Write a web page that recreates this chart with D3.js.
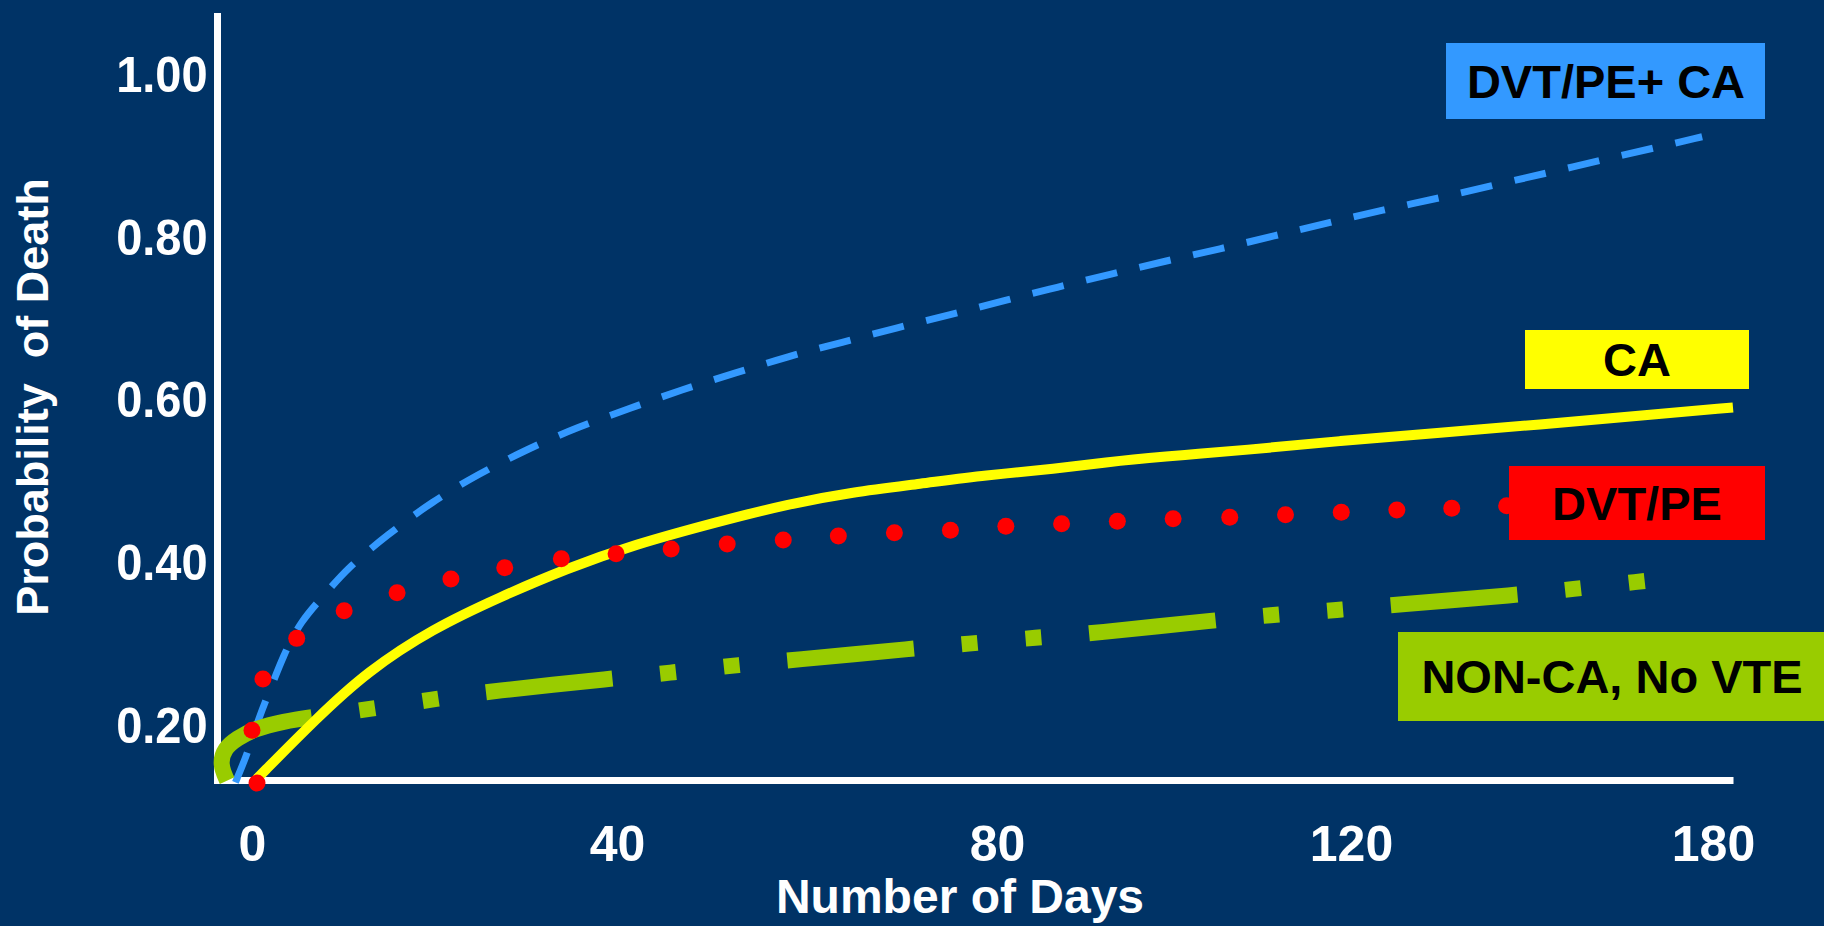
<!DOCTYPE html>
<html>
<head>
<meta charset="utf-8">
<script src="https://cdn.jsdelivr.net/npm/d3@7"></script>
<style>
  html, body { margin: 0; padding: 0; background: #003366; }
  svg { display: block; }
  text { font-family: "Liberation Sans", Arial, Helvetica, sans-serif; font-weight: bold; }
</style>
</head>
<body>
<svg id="chart" width="1824" height="926"></svg>
<script>
// ---- data ----
const dayTicks = [0, 40, 80, 120, 180];
const probTicks = [0.2, 0.4, 0.6, 0.8, 1.0];
const axisDays = [-3.8, 183.3];          // extent of the day axis line
const axisProbs = [0.1338, 1.0735];      // extent of the probability axis line

const seriesNames = ["DVT/PE+ CA", "CA", "DVT/PE", "NON-CA, No VTE"];
const seriesColors = ["#3399ff", "#ffff00", "#ff0000", "#99cc00"];

// [day, probability of death]
const dvtPeCa = [[-1.8,0.131],[-0.5,0.166],[0.8,0.212],[2.0,0.245],[3.4,0.286],[5.3,0.329],
  [8.0,0.362],[10.4,0.394],[14.8,0.435],[19.7,0.476],[24.8,0.510],[30.2,0.541],[35.7,0.568],
  [41.4,0.591],[46.8,0.614],[52.4,0.634],[58.0,0.655],[63.7,0.672],[69.4,0.690],[75.1,0.706],
  [80.7,0.723],[86.8,0.740],[92.9,0.756],[99.0,0.772],[105.2,0.787],[111.3,0.803],[117.4,0.819],
  [125.3,0.835],[134.3,0.849],[143.4,0.865],[152.3,0.880],[161.3,0.896],[170.2,0.911],[178.2,0.925]];

const ca = [[0.5,0.135],[7.1,0.210],[12.6,0.267],[19.8,0.320],[27.2,0.359],[34.5,0.394],
  [41.7,0.423],[50.8,0.452],[57.9,0.473],[64.8,0.488],[71.9,0.498],[78.9,0.509],[86.3,0.516],
  [93.9,0.527],[101.5,0.534],[107.5,0.539],[118.8,0.551],[134.8,0.561],[151.3,0.571],
  [167.9,0.582],[183.3,0.592]];

const dvtPe = [[0.55,0.130],[0.0,0.195],[1.2,0.258],[4.9,0.308],[10.1,0.342],[15.9,0.364],
  [21.8,0.381],[27.7,0.395],[33.9,0.406],[39.9,0.412],[45.7,0.418],[51.6,0.424],[57.5,0.429],
  [63.3,0.434],[69.2,0.438],[75.1,0.441],[81.0,0.446],[87.3,0.449],[93.6,0.452],[99.9,0.455],
  [106.3,0.457],[112.6,0.460],[118.9,0.463],[127.6,0.466],[136.7,0.468],[145.8,0.471]];

const nonCaNoVte = [[-2.7,0.133],[-3.5,0.153],[-3.0,0.173],[-1.6,0.185],[0.1,0.196],[3.4,0.206],
  [7.1,0.212],[12.9,0.221],[19.8,0.233],[26.1,0.243],[39.8,0.259],[45.9,0.266],[52.4,0.275],
  [58.2,0.281],[71.6,0.296],[77.5,0.302],[84.5,0.309],[90.7,0.314],[105.2,0.331],[111.4,0.337],
  [118.5,0.343],[127.0,0.349],[148.3,0.362],[156.0,0.368],[169.2,0.379]];

// ---- layout ----
const svg = d3.select("#chart");
const xPixels = [217, 252, 617, 997, 1351, 1713, 1733];
const x = d3.scaleLinear()
  .domain([axisDays[0], ...dayTicks, axisDays[1]])
  .range(xPixels);
const y = d3.scaleLinear().domain(axisProbs).range([780, 16]);

svg.append("rect").attr("width", 1824).attr("height", 926).attr("fill", "#003366");

// axes
const xAxis = svg.append("g")
  .attr("transform", `translate(0,${y(axisProbs[0])})`)
  .call(d3.axisBottom(x).tickValues(dayTicks).tickSize(0).tickSizeOuter(0)
    .tickPadding(45).tickFormat(d3.format("d")));

const yAxis = svg.append("g")
  .attr("transform", `translate(${x(axisDays[0])},0)`)
  .call(d3.axisLeft(y).tickValues(probTicks).tickSize(0).tickSizeOuter(0)
    .tickPadding(10).tickFormat(d3.format(".2f")));

[xAxis, yAxis].forEach(g => {
  g.select(".domain").attr("stroke", "#ffffff").attr("stroke-width", 7);
  g.selectAll("text").attr("fill", "#ffffff").style("font-size", "50px")
    .style("font-family", "'Liberation Sans', Arial, sans-serif").style("font-weight", "bold");
});
yAxis.select(".domain").attr("stroke-linecap", "square");
// slightly narrower figures on the probability axis
yAxis.selectAll(".tick text").attr("transform", "scale(0.94,1)");

// axis titles
svg.append("text")
  .attr("x", 960).attr("y", 913)
  .attr("text-anchor", "middle")
  .attr("fill", "#ffffff").style("font-size", "48px")
  .text("Number of Days");

svg.append("text")
  .attr("transform", "translate(48,397) rotate(-90)")
  .attr("text-anchor", "middle")
  .attr("fill", "#ffffff").style("font-size", "45px")
  .style("white-space", "pre")
  .text("Probability  of Death");

// curves
const line = d3.line()
  .x(d => x(d[0]))
  .y(d => y(d[1]))
  .curve(d3.curveBasis);

svg.append("path").datum(dvtPeCa)
  .attr("d", line).attr("fill", "none")
  .attr("stroke", seriesColors[0]).attr("stroke-width", 7)
  .attr("stroke-dasharray", "32,23");

svg.append("path").datum(nonCaNoVte)
  .attr("d", line).attr("fill", "none")
  .attr("stroke", seriesColors[3]).attr("stroke-width", 16)
  .attr("stroke-dasharray", "127,48,16,48,16,48");

svg.append("path").datum(ca)
  .attr("d", line).attr("fill", "none")
  .attr("stroke", seriesColors[1]).attr("stroke-width", 10);

svg.append("g").selectAll("circle").data(dvtPe).join("circle")
  .attr("cx", d => x(d[0])).attr("cy", d => y(d[1]))
  .attr("r", 8.5).attr("fill", seriesColors[2]);

// series labels
const labelBoxes = [
  { x: 1446, y: 43,  w: 319, h: 76, tx: 1606 },
  { x: 1525, y: 330, w: 224, h: 59, tx: 1637 },
  { x: 1509, y: 466, w: 256, h: 74, tx: 1637 },
  { x: 1398, y: 632, w: 426, h: 89, tx: 1612 }
];
const labels = svg.append("g").selectAll("g").data(seriesNames).join("g");
labels.append("rect")
  .attr("x", (d, i) => labelBoxes[i].x).attr("y", (d, i) => labelBoxes[i].y)
  .attr("width", (d, i) => labelBoxes[i].w).attr("height", (d, i) => labelBoxes[i].h)
  .attr("fill", (d, i) => seriesColors[i]);
labels.append("text")
  .attr("x", (d, i) => labelBoxes[i].tx)
  .attr("y", (d, i) => labelBoxes[i].y + labelBoxes[i].h / 2)
  .attr("dy", "0.36em")
  .attr("text-anchor", "middle")
  .attr("fill", "#000000").style("font-size", "47px")
  .text(d => d);
</script>
</body>
</html>
